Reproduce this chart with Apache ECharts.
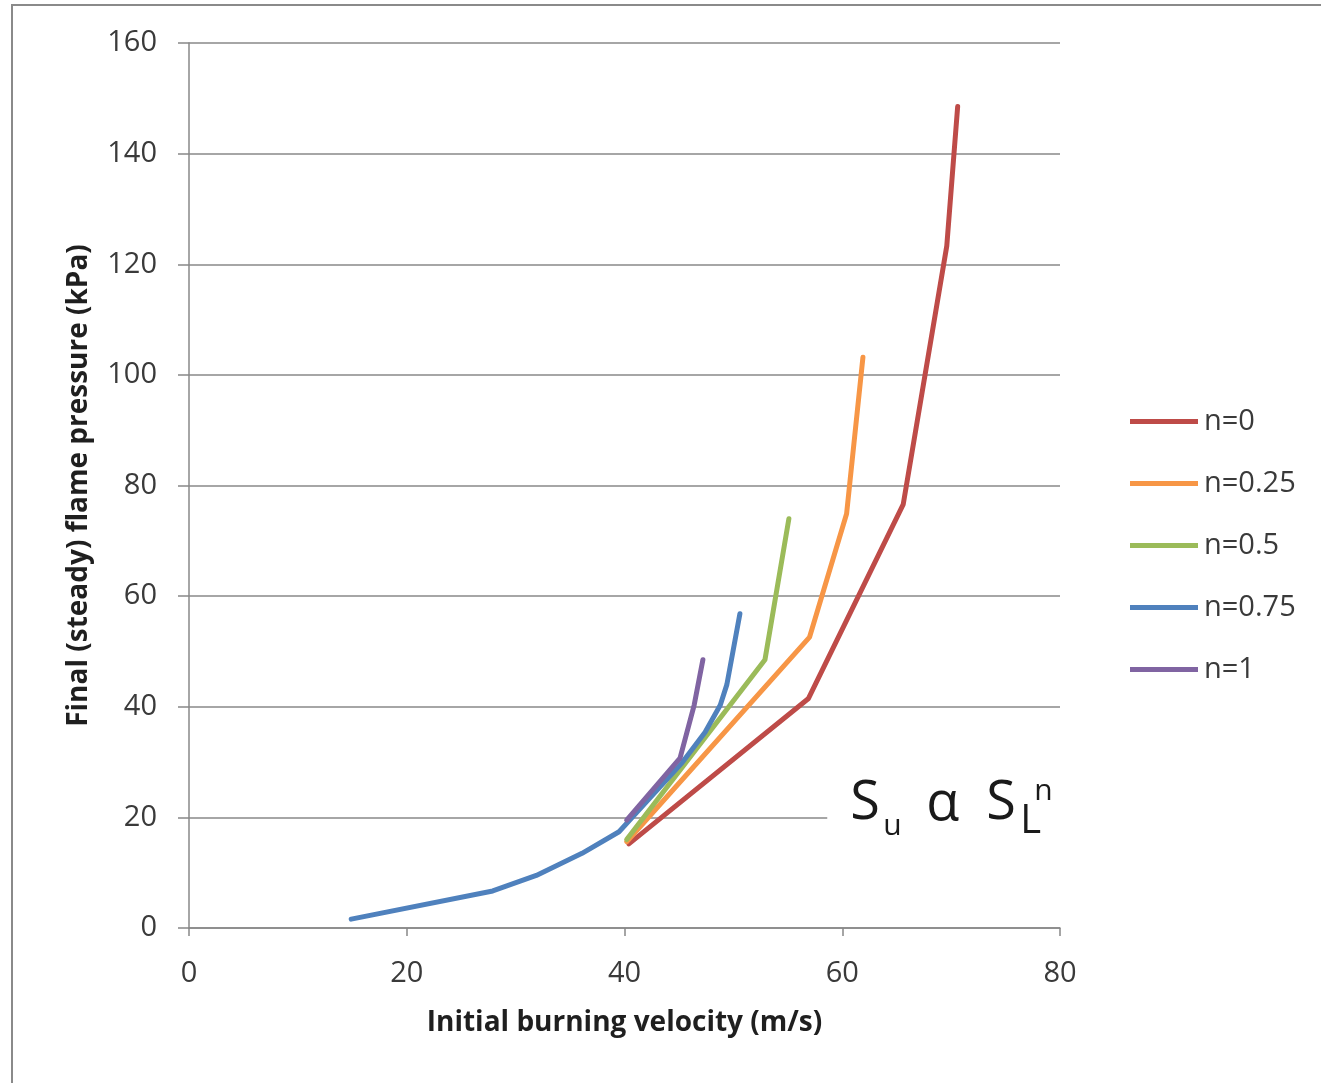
<!DOCTYPE html>
<html>
<head>
<meta charset="utf-8">
<script src="https://cdn.jsdelivr.net/npm/echarts@6/dist/echarts.min.js"></script>
<style>
  html, body { margin: 0; padding: 0; background: #ffffff; }
  #chart { width: 1321px; height: 1083px; }
</style>
</head>
<body>
<div id="chart"></div>
<script>
// Final flame pressure vs initial burning velocity, for S_u ∝ S_L^n
const seriesNames = ['n=0', 'n=0.25', 'n=0.5', 'n=0.75', 'n=1'];

const velN0    = [40.4, 56.9, 65.6, 69.6, 70.6];
const pressN0  = [15.2, 41.5, 76.6, 123.3, 148.5];

const velN025   = [40.2, 57.0, 60.4, 61.9];
const pressN025 = [15.6, 52.6, 74.9, 103.2];

const velN05   = [40.2, 52.9, 55.1];
const pressN05 = [16.0, 48.5, 74.0];

const velN075   = [14.9, 27.9, 31.9, 36.1, 39.5, 42.2, 45.3, 47.4, 48.8, 49.4, 50.6];
const pressN075 = [1.6, 6.7, 9.5, 13.5, 17.4, 23.2, 29.9, 35.4, 40.3, 44.0, 56.8];

const velN1   = [40.2, 45.1, 46.4, 47.2];
const pressN1 = [19.5, 30.7, 40.3, 48.5];

const xTicks = [0, 20, 40, 60, 80];
const yTicks = [0, 20, 40, 60, 80, 100, 120, 140, 160];

const colors = ['#BE4B48', '#F79646', '#9BBB59', '#4F81BD', '#8064A2'];
const allVel = [velN0, velN025, velN05, velN075, velN1];
const allPress = [pressN0, pressN025, pressN05, pressN075, pressN1];

const zip = (xs, ys) => xs.map((x, i) => [x, ys[i]]);

const chart = echarts.init(document.getElementById('chart'), null, { renderer: 'canvas' });

const axisColor = '#888888';
const labelFont = { fontFamily: 'Open Sans', fontSize: 29, color: '#3a3a3a' };
const titleFont = { fontFamily: 'Open Sans', fontWeight: 'bold', fontSize: 28, color: '#1f1f1f' };

chart.setOption({
  animation: false,
  backgroundColor: '#ffffff',
  color: colors,
  grid: { left: 189, right: 261, top: 43, bottom: 155, containLabel: false },
  legend: {
    orient: 'vertical',
    left: 1130,
    top: 407,
    padding: 0,
    icon: 'rect',
    itemWidth: 68,
    itemHeight: 5,
    itemGap: 33,
    textStyle: { fontFamily: 'Open Sans', fontSize: 29, color: '#3a3a3a', padding: [0, 0, 0, 1] },
    data: seriesNames
  },
  xAxis: {
    type: 'value',
    min: xTicks[0],
    max: xTicks[xTicks.length - 1],
    interval: 20,
    name: 'Initial burning velocity (m/s)',
    nameLocation: 'middle',
    nameGap: 81,
    nameTextStyle: titleFont,
    axisLine: { show: true, onZero: false, lineStyle: { color: axisColor, width: 1.5 } },
    axisTick: { show: true, length: 8, lineStyle: { color: axisColor, width: 1.5 } },
    axisLabel: Object.assign({ margin: 31 }, labelFont),
    splitLine: { show: false }
  },
  yAxis: {
    type: 'value',
    min: yTicks[0],
    max: yTicks[yTicks.length - 1],
    interval: 20,
    name: 'Final (steady) flame pressure (kPa)',
    nameLocation: 'middle',
    nameGap: 96,
    nameTextStyle: titleFont,
    axisLine: { show: true, lineStyle: { color: axisColor, width: 1.5 } },
    axisTick: { show: true, length: 11, lineStyle: { color: axisColor, width: 1.5 } },
    axisLabel: Object.assign({ margin: 32 }, labelFont),
    splitLine: { show: true, lineStyle: { color: axisColor, width: 1.5 } }
  },
  series: seriesNames.map((name, i) => ({
    name: name,
    type: 'line',
    data: zip(allVel[i], allPress[i]),
    symbol: 'none',
    smooth: false,
    lineStyle: { width: 5, color: colors[i], cap: 'round', join: 'round' },
    itemStyle: { color: colors[i] },
    z: 2 + i
  }))
});

// Relation label "S_u α S_L^n" placed on the plot near the 20 kPa gridline
const anchor = chart.convertToPixel({ gridIndex: 0 }, [60, 20]);
const ax = anchor[0], ay = anchor[1];
const txt = (s, dx, dy, size) => ({
  type: 'text',
  x: ax + dx,
  y: ay + dy,
  style: {
    text: s,
    fontFamily: 'Open Sans',
    fontSize: size,
    fill: '#1a1a1a',
    align: 'left',
    verticalAlign: 'middle'
  },
  z: 20
});

chart.setOption({
  graphic: [
    {
      type: 'rect',
      shape: { x: 12, y: 5, width: 1400, height: 1200 },
      style: { fill: 'none', stroke: '#8a8a8a', lineWidth: 2 },
      silent: true,
      z: 0
    },
    {
      type: 'rect',
      shape: { x: ax - 15, y: ay - 36, width: 234, height: 68 },
      style: { fill: '#ffffff' },
      silent: true,
      z: 10
    },
    txt('S', 8, -14, 54),
    txt('u', 41, 9, 30),
    txt('α', 84, -13, 54),
    txt('S', 144, -14, 54),
    txt('L', 178, 4, 40),
    txt('n', 192, -26, 30)
  ]
});
</script>
</body>
</html>
